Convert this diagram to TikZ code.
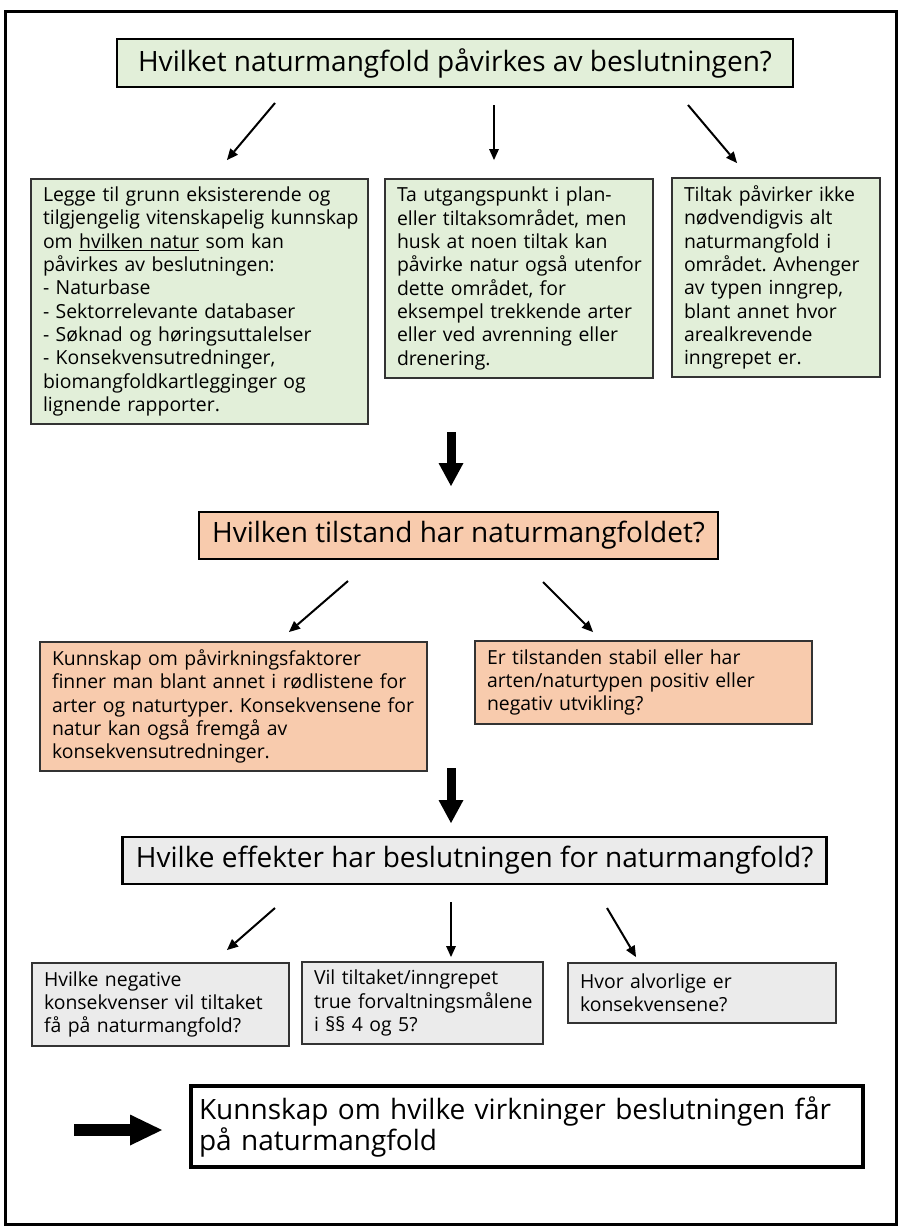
\documentclass[tikz,border=0pt]{standalone}
\usepackage{fontspec}
\setmainfont{Open Sans}
\usetikzlibrary{arrows.meta}
\definecolor{grn}{HTML}{E2EFD9}
\definecolor{peach}{HTML}{F8CBAD}
\definecolor{lgray}{HTML}{EBEBEB}
\definecolor{bordr}{HTML}{333333}
\frenchspacing
\begin{document}
\begin{tikzpicture}[x=1pt,y=-1pt,
  titlebox/.style={draw=black, line width=2.8pt, font=\fontsize{28}{32}\selectfont, inner sep=0pt, align=center},
  bodybox/.style={draw=bordr, line width=1.3pt, font=\fontsize{19.4}{23.3}\selectfont, inner xsep=12pt, inner ysep=0pt, align=left},
  smallarrow/.style={line width=2pt, -{Triangle[length=11pt,width=10pt,line width=0pt]}},
  bigarrow/.style={line width=9pt, -{Triangle[length=23pt,width=25pt,line width=0pt]}}
]
\useasboundingbox (0,0) rectangle (906,1231);
\node[draw=black, line width=3pt, minimum width=890.7pt, minimum height=1212.7pt, inner sep=0pt] (frame) at (450.65,617.65) {};

% level 1
\node[titlebox, fill=grn, minimum width=676pt, minimum height=48pt] (t1) at (455,63) {Hvilket naturmangfold påvirkes av beslutningen?};
\node[bodybox, fill=grn, minimum width=337pt, minimum height=245pt, text width=313pt] (A) at (199.5,301.5) {Legge til grunn eksisterende og\\\mbox{tilgjengelig vitenskapelig kunnskap}\\om \underline{hvilken natur} som kan\\påvirkes av beslutningen:\\- Naturbase\\- Sektorrelevante databaser\\- Søknad og høringsuttalelser\\- Konsekvensutredninger,\\biomangfoldkartlegginger og\\lignende rapporter.};
\node[bodybox, fill=grn, minimum width=268pt, minimum height=199pt, text width=244pt] (B) at (519,278.5) {Ta utgangspunkt i plan-\\eller tiltaksområdet, men\\husk at noen tiltak kan\\\mbox{påvirke natur også utenfor}\\dette området, for\\eksempel trekkende arter\\eller ved avrenning eller\\drenering.};
\node[bodybox, fill=grn, minimum width=208pt, minimum height=199pt, text width=184pt] (C) at (776,277.5) {Tiltak påvirker ikke\\nødvendigvis alt\\naturmangfold i\\området. Avhenger\\av typen inngrep,\\blant annet hvor\\arealkrevende\\inngrepet er.};

\coordinate (a1s) at (275,103); \coordinate (a1e) at (227,160);
\coordinate (a2s) at (494,105); \coordinate (a2e) at (494,160);
\coordinate (a3s) at (688,105); \coordinate (a3e) at (737,163);
\draw[smallarrow] (a1s) -- (a1e);
\draw[smallarrow] (a2s) -- (a2e);
\draw[smallarrow] (a3s) -- (a3e);

\coordinate (g1s) at (451,432); \coordinate (g1e) at (451,486);
\draw[bigarrow] (g1s) -- (g1e);

% level 2
\node[titlebox, fill=peach, minimum width=519pt, minimum height=47pt] (t2) at (458.5,535.5) {Hvilken tilstand har naturmangfoldet?};
\node[bodybox, fill=peach, minimum width=387pt, minimum height=129pt, text width=363pt] (D) at (233.5,706.5) {Kunnskap om påvirkningsfaktorer\\finner man blant annet i rødlistene for\\\mbox{arter og naturtyper. Konsekvensene for}\\natur kan også fremgå av\\konsekvensutredninger.};
\node[bodybox, fill=peach, minimum width=337pt, minimum height=83pt, text width=313pt] (E) at (643.5,682.5) {Er tilstanden stabil eller har\\arten/naturtypen positiv eller\\negativ utvikling?};

\coordinate (b1s) at (348,581); \coordinate (b1e) at (289,632);
\coordinate (b2s) at (543,582); \coordinate (b2e) at (593,632);
\draw[smallarrow] (b1s) -- (b1e);
\draw[smallarrow] (b2s) -- (b2e);

\coordinate (g2s) at (451,768); \coordinate (g2e) at (451,823);
\draw[bigarrow] (g2s) -- (g2e);

% level 3
\node[titlebox, fill=lgray, minimum width=704pt, minimum height=47pt] (t3) at (474.6,860.5) {Hvilke effekter har beslutningen for naturmangfold?};
\node[bodybox, fill=lgray, minimum width=257pt, minimum height=83pt, text width=233pt] (F) at (160.5,1004.5) {Hvilke negative\\konsekvenser vil tiltaket\\få på naturmangfold?};
\node[bodybox, fill=lgray, minimum width=241pt, minimum height=82pt, text width=217pt] (G) at (422.5,1003) {Vil tiltaket/inngrepet\\\mbox{true forvaltningsmålene}\\i §§ 4 og 5?};
\node[bodybox, fill=lgray, minimum width=268pt, minimum height=60pt, text width=244pt] (H) at (702,993) {Hvor alvorlige er\\konsekvensene?};

\coordinate (c1s) at (275,908); \coordinate (c1e) at (227,950);
\coordinate (c2s) at (451,902); \coordinate (c2e) at (451,957);
\coordinate (c3s) at (607,908); \coordinate (c3e) at (636,957);
\draw[smallarrow] (c1s) -- (c1e);
\draw[smallarrow] (c2s) -- (c2e);
\draw[smallarrow] (c3s) -- (c3e);

% result
\node[draw=black, line width=3.5pt, fill=white, minimum width=672pt, minimum height=81pt, text width=656pt, inner xsep=8pt, inner ysep=0pt, align=left, font=\fontsize{28}{31}\selectfont] (R) at (527,1126.5) {Kunnskap om hvilke virkninger beslutningen får\\på naturmangfold};
\coordinate (fs) at (74,1130); \coordinate (fe) at (162,1130);
\draw[line width=12pt, -{Triangle[length=32pt,width=31pt,line width=0pt]}] (fs) -- (fe);
\end{tikzpicture}
\end{document}
